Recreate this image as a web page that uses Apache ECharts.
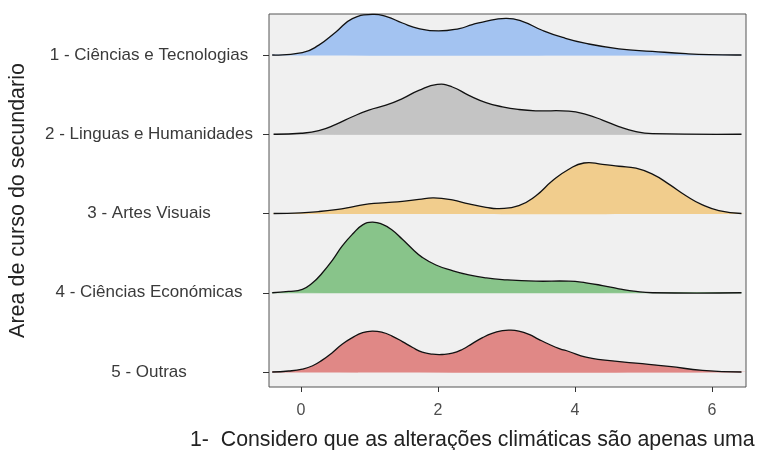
<!DOCTYPE html>
<html>
<head>
<meta charset="utf-8">
<script src="https://cdn.jsdelivr.net/npm/echarts@6/dist/echarts.min.js"></script>
<style>html,body{margin:0;padding:0;background:#fff;}#c{width:767px;height:450px;}</style>
</head>
<body>
<div id="c"></div>
<script>
// Categories (top to bottom)
const categories = [
  '1 - Ciências e Tecnologias',
  '2 - Linguas e Humanidades',
  '3 - Artes Visuais',
  '4 - Ciências Económicas',
  '5 - Outras'
];
// Ridge baselines on the y scale (top ridge highest); ridge spacing = 80 units
const baselines = [400, 320, 240, 160, 80];

// Scaled densities: x positions and ridge heights
const x1 = [-0.42, 0.02, 0.26, 0.51, 0.75, 1.04, 1.25, 1.48, 1.72, 2.01, 2.31, 2.50, 2.65, 2.99, 3.23, 3.52, 3.82, 4.16, 4.64, 5.13, 5.62, 5.96, 6.43];
const d1 = [0, 2.3, 10, 23.3, 36.7, 41, 38.7, 32.3, 26.7, 24.3, 26.7, 30.7, 33.3, 37, 34, 25, 17.7, 11.7, 6.3, 3.7, 1.3, 0.3, 0];

const x2 = [-0.4, 0, 0.26, 0.51, 0.75, 0.99, 1.24, 1.48, 1.72, 1.99, 2.21, 2.45, 2.70, 2.94, 3.18, 3.43, 3.91, 4.16, 4.40, 4.64, 4.89, 5.13, 6.43];
const d2 = [0, 1, 3.7, 10, 17.7, 24.3, 29.3, 36, 44.3, 50.3, 47.7, 39.3, 32, 27.7, 25, 23.7, 23.3, 20, 14.3, 7.7, 2.7, 0.7, 0];

const x3 = [-0.4, 0, 0.26, 0.51, 0.75, 0.99, 1.24, 1.48, 1.72, 1.94, 2.21, 2.45, 2.70, 2.89, 3.18, 3.43, 3.67, 3.91, 4.13, 4.40, 4.64, 4.89, 5.13, 5.37, 5.62, 5.86, 6.10, 6.43];
const d3 = [0, 0.7, 2, 4, 6.7, 9.7, 11, 12.3, 14.3, 15.7, 13.7, 9.7, 6.3, 5, 8, 18, 33, 44.7, 51, 49.7, 47.7, 45.7, 39.7, 29.7, 18, 8.7, 3, 0];

const x4 = [-0.42, -0.18, 0.02, 0.17, 0.31, 0.46, 0.60, 0.75, 0.90, 1.04, 1.19, 1.33, 1.48, 1.63, 1.77, 1.97, 2.21, 2.45, 2.70, 2.94, 3.43, 3.91, 4.16, 4.40, 4.64, 4.89, 5.13, 6.43];
const d4 = [0, 1.3, 3.5, 10, 20, 33, 47, 59, 68.5, 71.3, 69, 63.3, 54, 44, 35.7, 28, 22.3, 18, 15, 13.3, 11.7, 11.7, 10, 7.3, 4, 1.3, 0, 0];

const x5 = [-0.42, -0.18, 0.02, 0.17, 0.31, 0.46, 0.60, 0.75, 0.90, 1.04, 1.19, 1.33, 1.48, 1.63, 1.77, 1.92, 2.06, 2.21, 2.36, 2.50, 2.65, 2.79, 2.94, 3.04, 3.18, 3.33, 3.47, 3.62, 3.77, 3.91, 4.16, 4.40, 4.89, 5.37, 5.86, 6.43];
const d5 = [0, 1, 3, 6.3, 12, 19.7, 28, 34.7, 39.7, 41.3, 40, 36.3, 30.7, 24.7, 20, 18, 17.7, 19, 23, 28.7, 34.7, 39, 41.7, 42.3, 41.3, 38, 33, 28, 23.7, 20.7, 15, 12.3, 9, 5.7, 1.7, 0];

const xTicks = [0, 2, 4, 6];
const colors = ['#A3C3F1', '#C4C4C4', '#F1CD8D', '#88C48A', '#E08886'];

const ridgeX = [x1, x2, x3, x4, x5];
const ridgeD = [d1, d2, d3, d4, d5];

function renderRidge(params, api) {
  const i = params.dataIndex;
  const pts = ridgeX[i].map((x, j) => api.coord([x, baselines[i] + ridgeD[i][j]]));
  const first = ridgeX[i][0], last = ridgeX[i][ridgeX[i].length - 1];
  const b0 = api.coord([first, baselines[i]]);
  const b1 = api.coord([last, baselines[i]]);
  return {
    type: 'group',
    children: [
      { type: 'polygon', shape: { points: pts.slice(), smooth: 0.5 }, style: { fill: colors[i], stroke: null } },
      { type: 'rect', shape: { x: b0[0], y: b0[1] - 0.6, width: b1[0] - b0[0], height: 1.2 }, style: { fill: colors[i] } },
      { type: 'polyline', shape: { points: pts, smooth: 0.5 }, style: { stroke: '#111', lineWidth: 1.3, fill: null } }
    ]
  };
}

const chart = echarts.init(document.getElementById('c'), null, { renderer: 'canvas' });
chart.setOption({
  animation: false,
  backgroundColor: '#fff',
  title: {
    text: '1-  Considero que as alterações climáticas são apenas uma',
    left: 185, top: 425,
    textStyle: { fontFamily: 'Liberation Sans', fontSize: 21.3, fontWeight: 'normal', color: '#222' }
  },
  grid: {
    left: 269, top: 14, width: 477, height: 373,
    outerBoundsMode: 'none', containLabel: false,
    show: true, backgroundColor: '#F0F0F0', borderColor: '#555', borderWidth: 1
  },
  xAxis: {
    type: 'value',
    min: -0.467, max: 6.496,
    axisLine: { show: false, onZero: false },
    splitLine: { show: false },
    axisTick: { show: true, length: 5, lineStyle: { color: '#333' }, customValues: xTicks },
    axisLabel: { customValues: xTicks, margin: 16, fontFamily: 'Liberation Sans', fontSize: 16, color: '#4D4D4D' }
  },
  yAxis: {
    type: 'value',
    min: 64.87, max: 441.4,
    name: 'Area de curso do secundario',
    nameLocation: 'middle', nameRotate: 90, nameGap: 240,
    nameTextStyle: { fontFamily: 'Liberation Sans', fontSize: 21.5, color: '#222' },
    axisLine: { show: false, onZero: false },
    splitLine: { show: false },
    axisTick: { show: true, length: 6, lineStyle: { color: '#333' }, customValues: baselines },
    axisLabel: {
      customValues: baselines, margin: 120, align: 'center',
      fontFamily: 'Liberation Sans', fontSize: 17, color: '#3A3A3A',
      formatter: v => categories[baselines.indexOf(Math.round(v))]
    }
  },
  series: [{
    type: 'custom',
    renderItem: renderRidge,
    encode: { x: 0, y: 1 },
    data: baselines.map(b => [0, b]),
    clip: false,
    z: 2
  }]
});
</script>
</body>
</html>
